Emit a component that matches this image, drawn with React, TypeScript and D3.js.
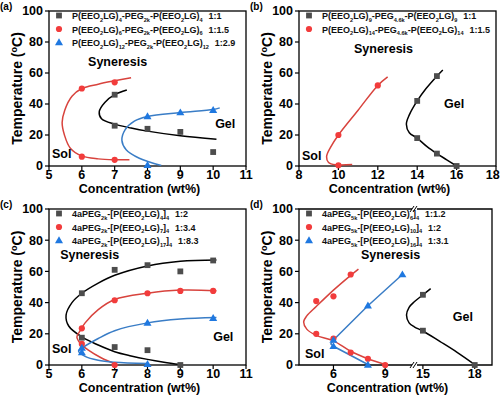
import * as d3 from 'd3'

type Pt = [number, number]

// ---- panel (a) ----
const aBlackPts: Pt[] = [[7, 46], [7, 26], [8, 24], [9, 22], [10, 9]]
const aRedPts: Pt[] = [[6, 50], [7, 54], [6, 6], [7, 4]]
const aBluePts: Pt[] = [[8, 32], [9, 34.5], [10, 36], [8, 0.5]]
const aBlackFit: Pt[] = [[7.37, 49], [7.0, 46], [6.7, 41], [6.53, 35], [6.6, 30.5], [7, 27], [7.5, 24.5], [8, 22.5], [9, 19.5], [10.1, 17.3]]
const aRedFit: Pt[] = [[7.5, 57], [7, 55], [6.5, 52.8], [6, 50], [5.7, 45], [5.48, 36], [5.4, 28], [5.47, 20], [5.65, 11.5], [6, 6.5], [6.5, 4.6], [7, 4], [7.45, 4]]
const aBlueFit: Pt[] = [[10.2, 37.5], [10, 36.5], [9, 34.5], [8, 32], [7.6, 29], [7.32, 23.5], [7.22, 16.5], [7.35, 10.5], [7.75, 5], [8.42, 0.3]]
const aLegend = [
  ['P(EEO_{2}LG)_{4}-PEG_{2k}-P(EEO_{2}LG)_{4}', '1:1'],
  ['P(EEO_{2}LG)_{6}-PEG_{2k}-P(EEO_{2}LG)_{6}', '1:1.5'],
  ['P(EEO_{2}LG)_{12}-PEG_{2k}-P(EEO_{2}LG)_{12}', '1:2.9'],
]

// ---- panel (b) ----
const bBlackPts: Pt[] = [[15, 58], [14, 42], [14, 18], [15, 8], [16, 0]]
const bRedPts: Pt[] = [[12, 52], [10, 20], [10, 0.5]]
const bBlackFit: Pt[] = [[15.3, 62], [15, 58], [14.45, 50], [14, 42], [13.6, 33], [13.45, 27], [13.6, 21.5], [14, 18], [14.5, 12.5], [15, 8], [15.5, 4], [16, 0]]
const bRedFit: Pt[] = [[12.5, 57.5], [12, 52], [11, 36], [10, 20], [9.6, 12], [9.4, 6], [9.5, 2.3], [9.85, 0.8], [10.7, 0.9]]
const bLegend = [
  ['P(EEO_{2}LG)_{9}-PEG_{4.6k}-P(EEO_{2}LG)_{9}', '1:1'],
  ['P(EEO_{2}LG)_{14}-PEG_{4.6k}-P(EEO_{2}LG)_{14}', '1:1.5'],
]

// ---- panel (c) ----
const cBlackPts: Pt[] = [[6, 46], [7, 61], [8, 64], [9, 60], [10, 67], [6, 17.5], [7, 11.5], [8, 9.5], [9, 0]]
const cRedPts: Pt[] = [[6, 23.5], [7, 41.5], [8, 46], [9, 47.5], [10, 47.5], [6, 13.5], [7, 0]]
const cBluePts: Pt[] = [[6, 11], [6, 8], [8, 27], [10, 30], [8, 0.5]]
const cBlackFit: Pt[] = [[10.1, 67.3], [9, 66.5], [8, 63.5], [7, 57.5], [6.5, 52.5], [6, 46], [5.7, 40], [5.52, 32], [5.6, 25], [6, 18], [6.5, 12.8], [7, 8.5], [7.5, 5.8], [8, 3.6], [8.5, 1.8], [9, 0.3]]
const cRedFit: Pt[] = [[10.1, 47.6], [9, 48], [8, 46], [7, 42], [6.5, 35.5], [6.1, 27], [5.95, 22], [5.85, 18], [5.95, 14], [6.2, 9.5], [6.6, 4.5], [7, 0.8]]
const cBlueFit: Pt[] = [[10.1, 30.5], [9, 29.5], [8, 27], [7, 22], [6.5, 17], [6.05, 11.5], [5.9, 9], [6.1, 5.5], [6.5, 3], [7, 1.8], [8, 1]]
const cLegend = [
  ['4aPEG_{2k}-[P(EEO_{2}LG)_{4}]_{4}', '1:2'],
  ['4aPEG_{2k}-[P(EEO_{2}LG)_{7}]_{4}', '1:3.4'],
  ['4aPEG_{2k}-[P(EEO_{2}LG)_{17}]_{4}', '1:8.3'],
]

// ---- panel (d) ---- (black series on the right part of the broken axis)
const dBlackPts: Pt[] = [[15, 45], [15, 22], [18, 0]]
const dRedPts: Pt[] = [[7, 58], [5, 41], [6, 44], [5, 20], [6, 17], [7, 8], [8, 4], [9, 0]]
const dBluePts: Pt[] = [[10, 58], [8, 38], [6, 16], [6, 12], [8, 0]]
const dBlackFit: Pt[] = [[15.45, 49], [15, 45], [14.5, 40.5], [14.2, 37], [14.05, 32], [14.2, 27], [14.5, 24.5], [15, 21.8], [16, 15], [17, 8], [18, 0.3]]
const dRedFit: Pt[] = [[7.45, 61.5], [7, 57.5], [6, 48], [5, 37.5], [4.45, 31.5], [4.27, 27.5], [4.45, 23], [5, 19], [6, 15.5], [7, 8.8], [8, 4], [9, 0.3]]
const dBlueFit: Pt[] = [[10, 58], [8, 38], [6, 16], [5.85, 13.5], [6, 12], [8, 0.3]]
const dLegend = [
  ['4aPEG_{5k}-[P(EEO_{2}LG)_{6}]_{4}', '1:1.2'],
  ['4aPEG_{5k}-[P(EEO_{2}LG)_{10}]_{4}', '1:2'],
  ['4aPEG_{5k}-[P(EEO_{2}LG)_{16}]_{4}', '1:3.1'],
]

const yTicks = [0, 20, 40, 60, 80, 100]
const FONT = "'Liberation Sans', Arial, Helvetica, sans-serif"
const MARK = { square: '#4d4d4d', circle: '#f23c3c', tri: '#1f78e0' }
const CURVE = { square: '#000000', circle: '#d8433d', tri: '#3a7dc6' }

type Kind = 'square' | 'circle' | 'tri'

function splitRich(s: string) {
  const out: { t: string; sub: boolean }[] = []
  const re = /_\{([^}]*)\}/g
  let last = 0
  let m: RegExpExecArray | null
  while ((m = re.exec(s))) {
    if (m.index > last) out.push({ t: s.slice(last, m.index), sub: false })
    out.push({ t: m[1], sub: true })
    last = re.lastIndex
  }
  if (last < s.length) out.push({ t: s.slice(last), sub: false })
  return out
}

function Rich({ text, ratio, x, y, size }: { text: string; ratio?: string; x: number; y: number; size: number }) {
  let cur = 0
  const segs = splitRich(text)
  return (
    <text x={x} y={y} fontSize={size} fontWeight="bold" fontFamily={FONT} fill="#111">
      {segs.map((s, i) => {
        const shift = s.sub ? size * 0.3 : 0
        const dy = shift - cur
        cur = shift
        return <tspan key={i} dy={dy} fontSize={s.sub ? size * 0.62 : size}>{s.t}</tspan>
      })}
      {ratio && <tspan dy={-cur} dx={size * 0.65}>{ratio}</tspan>}
    </text>
  )
}

function Marker({ kind, x, y }: { kind: Kind; x: number; y: number }) {
  if (kind === 'square') return <rect x={x - 2.9} y={y - 2.9} width={5.8} height={5.8} fill={MARK.square} />
  if (kind === 'circle') return <circle cx={x} cy={y} r={3.1} fill={MARK.circle} />
  return <path d={d3.symbol(d3.symbolTriangle, 28)()!} transform={`translate(${x},${y + 0.5})`} fill={MARK.tri} />
}

interface Series { kind: Kind; pts: Pt[]; fit: Pt[]; linear?: boolean; right?: boolean }

interface PanelProps {
  tag: string
  left: number; right: number; top: number; bottom: number
  x: d3.ScaleLinear<number, number>
  x2?: d3.ScaleLinear<number, number>
  xTicks: number[]
  x2Ticks?: number[]
  breakAt?: number
  series: Series[]
  legend: string[][]
  kinds: Kind[]
  syn: Pt; sol: Pt; gel: Pt; gelRight?: boolean
}

function Panel(p: PanelProps) {
  const y = d3.scaleLinear().domain([0, 100]).range([p.bottom, p.top])
  const lineOf = (s: Series) => {
    const sx = s.right && p.x2 ? p.x2 : p.x
    return d3.line<Pt>()
      .x(d => sx(d[0]))
      .y(d => y(d[1]))
      .curve(s.linear ? d3.curveLinear : d3.curveCatmullRom.alpha(0.5))(s.fit)
  }
  const midY = (p.top + p.bottom) / 2
  const midX = (p.left + p.right) / 2 - 8
  const bx = p.breakAt
  const lbl = { fontFamily: FONT, fontWeight: 'bold' as const, fill: '#000' }
  // keep edge tick labels inside the 500px page
  const labelX = (px: number, t: number) => Math.min(px, 500 - String(t).length * 3.6)

  return (
    <g>
      <text x={p.left - 49} y={p.top - 1} fontSize={10} {...lbl}>{p.tag}</text>

      {/* frame */}
      {bx === undefined ? (
        <rect x={p.left} y={p.top} width={p.right - p.left} height={p.bottom - p.top} fill="none" stroke="#000" strokeWidth={1.3} />
      ) : (
        <g stroke="#000" strokeWidth={1.3} fill="none">
          <path d={`M${bx - 2},${p.top}H${p.left}V${p.bottom}H${bx - 2}`} />
          <path d={`M${bx + 3},${p.top}H${p.right}V${p.bottom}H${bx + 3}`} />
          {[p.top, p.bottom].map(yy => (
            <g key={yy} strokeWidth={1}>
              <line x1={bx - 4} y1={yy + 3} x2={bx} y2={yy - 3} />
              <line x1={bx - 1} y1={yy + 3} x2={bx + 3} y2={yy - 3} />
            </g>
          ))}
        </g>
      )}

      {/* y axis */}
      {yTicks.map(t => (
        <g key={t}>
          <line x1={p.left - 4} x2={p.left} y1={y(t)} y2={y(t)} stroke="#000" strokeWidth={1.2} />
          <text x={p.left - 6} y={y(t) + 4.3} textAnchor="end" fontSize={12.5} {...lbl}>{t}</text>
        </g>
      ))}
      <text transform={`translate(${p.left - 27},${midY}) rotate(-90)`} textAnchor="middle" fontSize={14} {...lbl}>
        Temperature (<tspan dy={-5} fontSize={9}>o</tspan><tspan dy={5}>C)</tspan>
      </text>

      {/* x axis */}
      {p.xTicks.map(t => (
        <g key={'x' + t}>
          <line x1={p.x(t)} x2={p.x(t)} y1={p.bottom} y2={p.bottom + 4} stroke="#000" strokeWidth={1.2} />
          <text x={labelX(p.x(t), t)} y={p.bottom + 12.5} textAnchor="middle" fontSize={12.5} {...lbl}>{t}</text>
        </g>
      ))}
      {p.x2 && p.x2Ticks && p.x2Ticks.map(t => (
        <g key={'x2' + t}>
          <line x1={p.x2!(t)} x2={p.x2!(t)} y1={p.bottom} y2={p.bottom + 4} stroke="#000" strokeWidth={1.2} />
          <text x={p.x2!(t)} y={p.bottom + 12.5} textAnchor="middle" fontSize={12.5} {...lbl}>{t}</text>
        </g>
      ))}
      <text x={midX} y={p.bottom + 27} textAnchor="middle" fontSize={12.5} {...lbl}>Concentration (wt%)</text>

      {/* fitted curves */}
      {p.series.map((s, i) => (
        <path key={'c' + i} d={lineOf(s) || ''} fill="none" stroke={CURVE[s.kind]} strokeWidth={1.5} />
      ))}
      {/* data points */}
      {p.series.map((s, i) => s.pts.map((d, j) => {
        const sx = s.right && p.x2 ? p.x2 : p.x
        return <Marker key={`m${i}-${j}`} kind={s.kind} x={sx(d[0])} y={y(d[1])} />
      }))}

      {/* legend */}
      {p.legend.map((l, i) => (
        <g key={'l' + i}>
          <Marker kind={p.kinds[i]} x={p.left + 10} y={p.top + 4.5 + i * 13.5} />
          <Rich text={l[0]} ratio={l[1]} x={p.left + 23} y={p.top + 8 + i * 13.5} size={9} />
        </g>
      ))}

      {/* region labels */}
      <text x={p.x(p.syn[0])} y={y(p.syn[1])} fontSize={12.5} {...lbl}>Syneresis</text>
      <text x={p.x(p.sol[0])} y={y(p.sol[1])} fontSize={12.5} {...lbl}>Sol</text>
      <text x={(p.gelRight && p.x2 ? p.x2 : p.x)(p.gel[0])} y={y(p.gel[1])} fontSize={12.5} {...lbl}>Gel</text>
    </g>
  )
}

export default function App() {
  const xa = d3.scaleLinear().domain([5, 11]).range([49, 246])
  const xb = d3.scaleLinear().domain([8, 18]).range([299, 496])
  const xc = d3.scaleLinear().domain([5, 11]).range([49, 246])
  const xdL = d3.scaleLinear().domain([4, 10.5]).range([299, 411])
  const xdR = d3.scaleLinear().domain([14.6, 19]).range([416, 492])

  return (
    <svg width={500} height={398} style={{ position: 'absolute', left: 0, top: 0, background: '#fff' }}>
      <Panel tag="(a)" left={49} right={246} top={11} bottom={166} x={xa} xTicks={d3.range(5, 12)}
        series={[
          { kind: 'square', pts: aBlackPts, fit: aBlackFit },
          { kind: 'circle', pts: aRedPts, fit: aRedFit },
          { kind: 'tri', pts: aBluePts, fit: aBlueFit },
        ]}
        legend={aLegend} kinds={['square', 'circle', 'tri']}
        syn={[6.19, 64.5]} sol={[5.09, 5.2]} gel={[10.06, 24.5]} />
      <Panel tag="(b)" left={299} right={496} top={11} bottom={166} x={xb} xTicks={[8, 10, 12, 14, 16, 18]}
        series={[
          { kind: 'square', pts: bBlackPts, fit: bBlackFit },
          { kind: 'circle', pts: bRedPts, fit: bRedFit },
        ]}
        legend={bLegend} kinds={['square', 'circle']}
        syn={[10.79, 72.9]} sol={[8.15, 3.9]} gel={[15.36, 37.4]} />
      <Panel tag="(c)" left={49} right={246} top={209} bottom={365} x={xc} xTicks={d3.range(5, 12)}
        series={[
          { kind: 'square', pts: cBlackPts, fit: cBlackFit },
          { kind: 'circle', pts: cRedPts, fit: cRedFit },
          { kind: 'tri', pts: cBluePts, fit: cBlueFit },
        ]}
        legend={cLegend} kinds={['square', 'circle', 'tri']}
        syn={[5.34, 67.8]} sol={[5.09, 7.5]} gel={[10.0, 15.2]} />
      <Panel tag="(d)" left={299} right={492} top={209} bottom={365} x={xdL} x2={xdR} xTicks={[6, 9]} x2Ticks={[15, 18]} breakAt={414}
        series={[
          { kind: 'square', pts: dBlackPts, fit: dBlackFit, right: true },
          { kind: 'circle', pts: dRedPts, fit: dRedFit },
          { kind: 'tri', pts: dBluePts, fit: dBlueFit, linear: true },
        ]}
        legend={dLegend} kinds={['square', 'circle', 'tri']}
        syn={[7.6, 67.8]} sol={[4.35, 4.3]} gel={[16.73, 28]} gelRight />
    </svg>
  )
}
